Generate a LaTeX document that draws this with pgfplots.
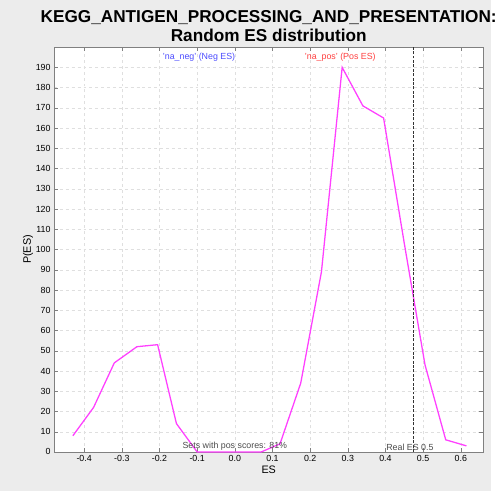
\documentclass[border=0pt]{standalone}
\usepackage{fontspec}
\setmainfont{Liberation Sans}
\usepackage{pgfplots}
\pgfplotsset{compat=1.18}
\begin{document}
\begin{tikzpicture}
\fill[gray!15] (0,0) rectangle (500pt,500pt);
\begin{axis}[at={(55pt,40pt)},anchor=south west,
 width=437pt,height=412pt,scale only axis,
 xmin=-0.48,xmax=0.66,ymin=0,ymax=200,
 axis background/.style={fill=white},
 xtick={-0.4,-0.3,...,0.61},
 ytick={0,10,...,190},
 /pgf/number format/assume math mode=true,
 /pgf/number format/fixed,/pgf/number format/precision=1,
 /pgf/number format/fixed zerofill,
 yticklabel={\pgfmathprintnumber[fixed,precision=0]{\tick}},
 ticklabel style={font=\fontsize{9}{10}\selectfont},
 grid=major,grid style={dashed,gray!25},
 xlabel={ES},ylabel={P(ES)},
 label style={font=\fontsize{11}{12}\selectfont},
 xlabel style={yshift=3pt},ylabel style={yshift=-4pt},
 title={\textbf{KEGG\_ANTIGEN\_PROCESSING\_AND\_PRESENTATION:}\\\textbf{Random ES distribution}},
 title style={align=center,font=\fontsize{17.5}{19}\selectfont,yshift=-4pt},
 axis line style={gray},tick style={gray},
 clip=false]
\addplot[line width=1.3pt,color={rgb,255:red,255;green,64;blue,255}] coordinates {
(-0.43,8)(-0.375,22)(-0.32,44)(-0.26,52)(-0.205,53)(-0.155,14)(-0.1,0)(-0.05,0)(0,0)(0.07,0)(0.12,4)(0.175,34)(0.23,89)(0.285,190)(0.34,171)(0.395,165)(0.45,103)(0.505,43)(0.56,6)(0.615,3)};
\addplot[black!80,line width=1.5pt,dash pattern=on 3pt off 1.5pt] coordinates {(0.475,0)(0.475,200)};
\node[font=\fontsize{9}{10}\selectfont,text=blue!70] at (axis cs:-0.095,195) {'na\_neg' (Neg ES)};
\node[font=\fontsize{9}{10}\selectfont,text=red!75] at (axis cs:0.28,195) {'na\_pos' (Pos ES)};
\node[font=\fontsize{9}{10}\selectfont,text=black!70,anchor=south] at (axis cs:0,-1) {Sets with pos scores: 81\%};
\node[font=\fontsize{9}{10}\selectfont,text=black!70,anchor=south] at (axis cs:0.465,-1) {Real ES 0.5};
\end{axis}
\end{tikzpicture}
\end{document}
